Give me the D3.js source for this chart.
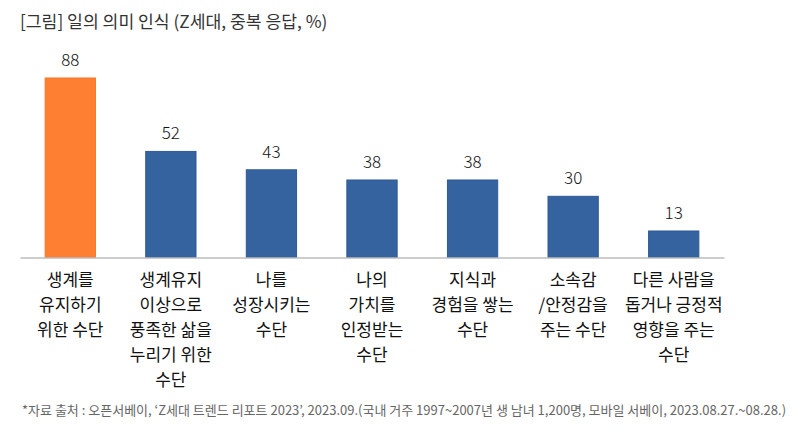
<!DOCTYPE html>
<html>
  <head>
    <meta charset="utf-8">
    <script src="https://d3js.org/d3.v7.min.js"></script>
    <style>
      body { margin: 0; background: #fff; }
      svg { font-family: "Noto Sans CJK KR", "Noto Sans", sans-serif; }
    </style>
  </head>
  <body>
    <svg id="chart" width="800" height="440"></svg>
    <script>
      const categories = [
        ["생계를", "유지하기", "위한 수단"],
        ["생계유지", "이상으로", "풍족한 삶을", "누리기 위한", "수단"],
        ["나를", "성장시키는", "수단"],
        ["나의", "가치를", "인정받는", "수단"],
        ["지식과", "경험을 쌓는", "수단"],
        ["소속감", "/안정감을", "주는 수단"],
        ["다른 사람을", "돕거나 긍정적", "영향을 주는", "수단"]
      ];
      const values = [88, 52, 43, 38, 38, 30, 13];
      const highlight = [true, false, false, false, false, false, false];
      const title = "[그림] 일의 의미 인식 (Z세대, 중복 응답, %)";
      const source = "*자료 출처 : 오픈서베이, ‘Z세대 트렌드 리포트 2023’, 2023.09.(국내 거주 1997~2007년 생 남녀 1,200명, 모바일 서베이, 2023.08.27.~08.28.)";

      const svg = d3.select("#chart");
      const left = 20, right = 724, baseline = 257.5;

      const x = d3.scaleBand().domain(d3.range(values.length)).range([left, right]).paddingInner(0.5).paddingOuter(0.25);
      const y = d3.scaleLinear().domain([0, 88]).range([baseline, 78]);

      svg.append("text")
        .attr("x", 20)
        .attr("y", 28)
        .attr("font-size", 17.2)
        .attr("fill", "#333")
        .text(title);

      svg.selectAll("rect.bar").data(values)
        .join("rect")
        .attr("class", "bar")
        .attr("x", (d, i) => x(i))
        .attr("y", d => y(d))
        .attr("width", x.bandwidth())
        .attr("height", d => baseline - y(d))
        .attr("fill", (d, i) => highlight[i] ? "#FF7F32" : "#3563A0")
        .attr("stroke", (d, i) => highlight[i] ? "#F57628" : "#2F5A94")
        .attr("stroke-width", 1);

      svg.selectAll("text.val").data(values)
        .join("text")
        .attr("class", "val")
        .attr("x", (d, i) => x(i) + x.bandwidth() / 2)
        .attr("y", d => y(d) - 12)
        .attr("text-anchor", "middle")
        .attr("font-size", 17)
        .attr("font-weight", 300)
        .attr("fill", "#111")
        .text(d => d);

      const xAxis = d3.axisBottom(x).tickSize(0).tickFormat("");
      const axisG = svg.append("g")
        .attr("transform", `translate(0,${baseline})`)
        .call(xAxis);
      axisG.select(".domain").attr("stroke", "#bcbcbc").attr("stroke-width", 1.5);

      categories.forEach((lines, i) => {
        const t = svg.append("text")
          .attr("text-anchor", "middle")
          .attr("font-size", 17)
          .attr("fill", "#111");
        lines.forEach((ln, j) => {
          t.append("tspan")
            .attr("x", x(i) + x.bandwidth() / 2)
            .attr("y", 286 + j * 25)
            .text(ln);
        });
      });

      svg.append("text")
        .attr("x", 22)
        .attr("y", 415)
        .attr("font-size", 13)
        .attr("fill", "#666")
        .text(source);
    </script>
  </body>
</html>
